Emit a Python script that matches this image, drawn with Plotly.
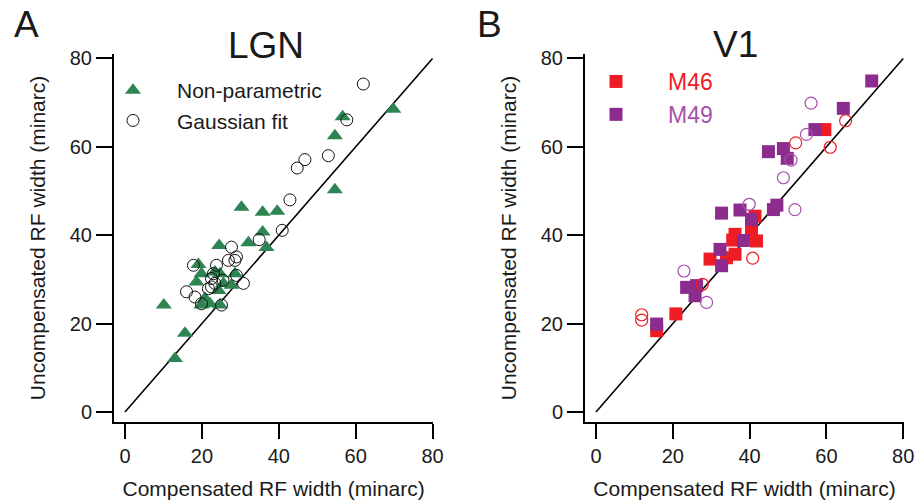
import plotly.graph_objects as go

# ---------------- data ----------------
# Panel A: LGN
lgn_np_x = [69.8, 56.6, 54.6, 54.6, 30.3, 35.8, 39.6, 35.8, 32.1, 24.5, 36.8, 10.1, 15.6, 13.0,
            19.1, 19.9, 18.6, 23.4, 24.7, 25.6, 19.9, 24.7, 22.1, 20.8, 28.6, 27.7, 24.3]
lgn_np_y = [68.5, 66.8, 62.5, 50.3, 46.3, 45.2, 45.4, 40.7, 38.3, 37.7, 37.2, 24.2, 17.8, 12.1,
            33.4, 31.3, 29.4, 31.7, 31.3, 29.1, 24.2, 24.2, 24.5, 25.7, 31.3, 28.7, 27.5]
lgn_g_x = [62.0, 57.7, 52.9, 46.8, 44.8, 42.9, 40.9, 34.9, 27.7, 29.0, 28.6, 26.9, 17.8, 23.8,
           23.0, 29.0, 30.8, 22.5, 23.4, 21.7, 16.0, 18.2, 19.9, 25.1, 25.5, 22.5]
lgn_g_y = [74.2, 66.1, 58.0, 57.1, 55.2, 48.0, 41.1, 39.0, 37.3, 35.1, 34.3, 34.3, 33.2, 33.2,
           31.3, 30.9, 29.1, 28.3, 29.1, 27.9, 27.2, 26.0, 24.5, 24.2, 29.8, 30.2]

# Panel B: V1
m46_sq_x = [59.6, 41.4, 41.8, 40.5, 36.2, 35.6, 34.0, 36.2, 29.7, 20.8, 15.8]
m46_sq_y = [63.9, 44.3, 38.7, 41.3, 40.2, 38.9, 34.9, 35.7, 34.6, 22.2, 18.4]
m49_sq_x = [71.8, 64.4, 57.0, 44.9, 48.8, 49.8, 32.7, 37.5, 46.2, 47.1, 40.5, 38.4, 32.3, 32.7,
            23.6, 26.2, 25.8, 15.8]
m49_sq_y = [74.9, 68.7, 63.9, 58.9, 59.6, 57.4, 45.0, 45.7, 45.8, 46.8, 43.6, 38.8, 36.8, 33.1,
            28.2, 28.6, 26.3, 19.9]
m46_c_x = [65.0, 52.0, 61.0, 40.8, 27.7, 11.9, 11.9]
m46_c_y = [65.9, 60.9, 59.9, 34.8, 28.9, 22.0, 20.8]
m49_c_x = [80.9, 80.9, 56.0, 54.8, 50.8, 48.8, 39.9, 51.8, 22.9, 28.8]
m49_c_y = [80.9, 71.0, 69.9, 62.8, 57.0, 53.0, 47.0, 45.8, 31.9, 24.8]

unity = [0, 80]
tick_vals = [0, 20, 40, 60, 80]
tick_text = ["0", "20", "40", "60", "80"]

# ---------------- style ----------------
W, H = 918, 504
FONT = "Liberation Sans, Arial, sans-serif"
GREEN = "#2F8453"
RED = "#EE1C25"
PURPLE = "#8B2C8E"
PURPLE_L = "#A552AC"
INK = "#1a1a1a"
AX_LW = 2
X_RANGE = [-2.86, 80.2]
Y_RANGE = [-2.26, 81.0]
X_DOM_A = [114 / W, 433.3 / W]
X_DOM_B = [585 / W, 904 / W]
Y_DOM = [(H - 422) / H, (H - 54) / H]

fig = go.Figure()

# Panel A
fig.add_trace(go.Scatter(x=unity, y=unity, mode="lines", line=dict(color="black", width=1.6),
                         showlegend=False, xaxis="x", yaxis="y", hoverinfo="skip"))
fig.add_trace(go.Scatter(x=lgn_np_x, y=lgn_np_y, mode="markers", name="Non-parametric",
                         marker=dict(symbol="triangle-up", size=14, color=GREEN, line=dict(width=0)),
                         xaxis="x", yaxis="y", legend="legend", cliponaxis=False))
fig.add_trace(go.Scatter(x=lgn_g_x, y=lgn_g_y, mode="markers", name="Gaussian fit",
                         marker=dict(symbol="circle-open", size=12, color="#111111", line=dict(width=1)),
                         xaxis="x", yaxis="y", legend="legend", cliponaxis=False))

# Panel B
fig.add_trace(go.Scatter(x=unity, y=unity, mode="lines", line=dict(color="black", width=1.6),
                         showlegend=False, xaxis="x2", yaxis="y2", hoverinfo="skip"))
fig.add_trace(go.Scatter(x=m46_sq_x, y=m46_sq_y, mode="markers",
                         name='<span style="color:%s">M46</span>' % RED,
                         marker=dict(symbol="square", size=13, color=RED, line=dict(width=0)),
                         xaxis="x2", yaxis="y2", legend="legend2", cliponaxis=False))
fig.add_trace(go.Scatter(x=m49_sq_x, y=m49_sq_y, mode="markers",
                         name='<span style="color:%s">M49</span>' % PURPLE_L,
                         marker=dict(symbol="square", size=13, color=PURPLE, line=dict(width=0)),
                         xaxis="x2", yaxis="y2", legend="legend2", cliponaxis=False))
fig.add_trace(go.Scatter(x=m46_c_x, y=m46_c_y, mode="markers", showlegend=False,
                         marker=dict(symbol="circle-open", size=12, color=RED, line=dict(width=1.2)),
                         xaxis="x2", yaxis="y2", cliponaxis=False))
fig.add_trace(go.Scatter(x=m49_c_x, y=m49_c_y, mode="markers", showlegend=False,
                         marker=dict(symbol="circle-open", size=12, color=PURPLE_L, line=dict(width=1.2)),
                         xaxis="x2", yaxis="y2", cliponaxis=False))


def xa(domain, anchor):
    return dict(domain=domain, anchor=anchor, range=X_RANGE, showgrid=False, zeroline=False,
                showline=True, linecolor="#000000", linewidth=AX_LW,
                ticks="outside", ticklen=15, tickwidth=AX_LW, tickcolor="#000000",
                tickmode="array", tickvals=tick_vals, ticktext=tick_text,
                tickfont=dict(family=FONT, size=20, color=INK),
                title=dict(text="Compensated RF width (minarc)", standoff=15,
                           font=dict(family=FONT, size=21, color=INK)))


def ya(domain, anchor):
    return dict(domain=domain, anchor=anchor, range=Y_RANGE, showgrid=False, zeroline=False,
                showline=True, linecolor="#000000", linewidth=AX_LW,
                ticks="outside", ticklen=16, tickwidth=AX_LW, tickcolor="#000000",
                tickmode="array", tickvals=tick_vals, ticktext=tick_text,
                tickfont=dict(family=FONT, size=20, color=INK),
                title=dict(text="Uncompensated RF width (minarc)", standoff=18,
                           font=dict(family=FONT, size=21, color=INK)))


fig.update_layout(
    width=W, height=H, margin=dict(l=0, r=0, t=0, b=0, autoexpand=False),
    paper_bgcolor="white", plot_bgcolor="white",
    font=dict(family=FONT, color=INK),
    xaxis=xa(X_DOM_A, "y"),
    yaxis=ya(Y_DOM, "x"),
    xaxis2=xa(X_DOM_B, "y2"),
    yaxis2=ya(Y_DOM, "x2"),
    legend=dict(x=89 / W, y=1 - 70 / H, xanchor="left", yanchor="top", bgcolor="rgba(0,0,0,0)",
                itemwidth=78, font=dict(family=FONT, size=21, color=INK),
                tracegroupgap=0, itemsizing="trace"),
    legend2=dict(x=564 / W, y=1 - 60 / H, xanchor="left", yanchor="top", bgcolor="rgba(0,0,0,0)",
                 itemwidth=94, font=dict(family=FONT, size=23),
                 tracegroupgap=0, itemsizing="trace"),
    annotations=[
        dict(text="A", x=26 / W, y=1 - 24 / H, xref="paper", yref="paper", showarrow=False,
             xanchor="center", yanchor="middle", font=dict(family=FONT, size=37, color=INK)),
        dict(text="B", x=489 / W, y=1 - 24 / H, xref="paper", yref="paper", showarrow=False,
             xanchor="center", yanchor="middle", font=dict(family=FONT, size=37, color=INK)),
        dict(text="LGN", x=266 / W, y=1 - 45 / H, xref="paper", yref="paper", showarrow=False,
             xanchor="center", yanchor="middle", font=dict(family=FONT, size=37, color=INK)),
        dict(text="V1", x=735 / W, y=1 - 44 / H, xref="paper", yref="paper", showarrow=False,
             xanchor="center", yanchor="middle", font=dict(family=FONT, size=37, color=INK)),
    ],
)

fig.write_html("out.html")
